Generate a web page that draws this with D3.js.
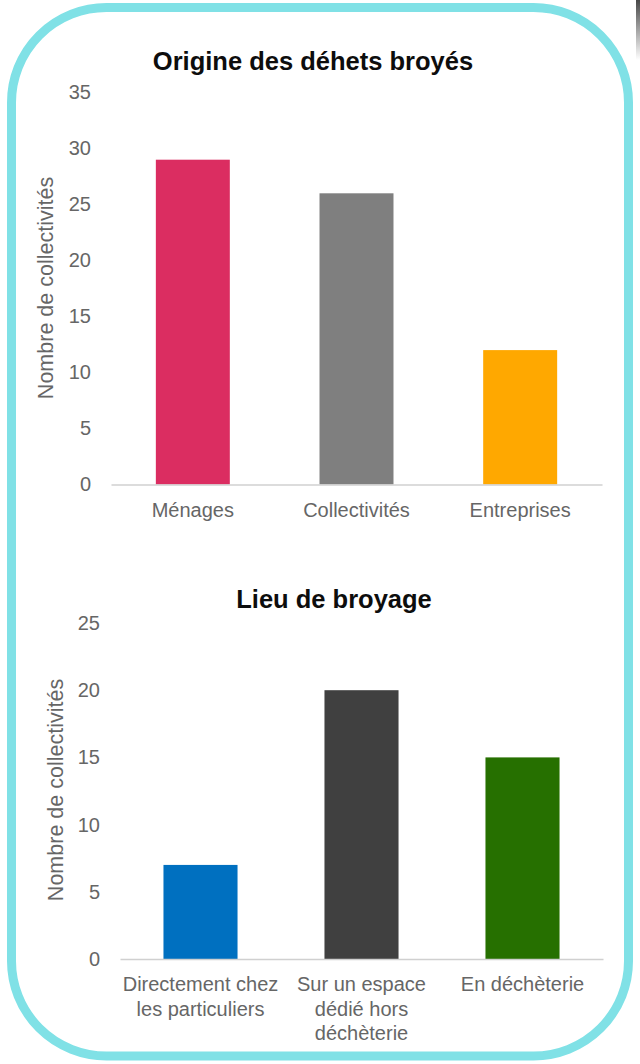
<!DOCTYPE html>
<html>
<head>
<meta charset="utf-8">
<script src="https://cdn.jsdelivr.net/npm/d3@7"></script>
<style>
  html, body { margin: 0; padding: 0; background: #fff; }
  svg { display: block; font-family: "Liberation Sans", Arial, sans-serif; }
</style>
</head>
<body>
<div id="chart"></div>
<script>
// chart 1 : origine des déchets
const origineTitle = 'Origine des déhets broyés';
const origineCategories = ['Ménages', 'Collectivités', 'Entreprises'];
const origineValues = [29, 26, 12];
const origineColors = ['#db2d61', '#7f7f7f', '#ffa800'];
const origineTicks = [0, 5, 10, 15, 20, 25, 30, 35];

// chart 2 : lieu de broyage (labels are already split in lines)
const lieuTitle = 'Lieu de broyage';
const lieuCategories = [
  ['Directement chez', 'les particuliers'],
  ['Sur un espace', 'dédié hors', 'déchèterie'],
  ['En déchèterie']
];
const lieuValues = [7, 20, 15];
const lieuColors = ['#0070c0', '#404040', '#267000'];
const lieuTicks = [0, 5, 10, 15, 20, 25];

const yLabel = 'Nombre de collectivités';

const width = 640;
const height = 1064;

const svg = d3.select('#chart').append('svg')
  .attr('width', width)
  .attr('height', height);

// little dark shadow seen top right of the screenshot
const grad = svg.append('defs').append('linearGradient')
  .attr('id', 'shade').attr('x1', 0).attr('y1', 0).attr('x2', 0).attr('y2', 1);
grad.append('stop').attr('offset', '0%').attr('stop-color', '#333').attr('stop-opacity', 0.9);
grad.append('stop').attr('offset', '100%').attr('stop-color', '#333').attr('stop-opacity', 0);
svg.append('rect')
  .attr('x', 636).attr('y', 0).attr('width', 4).attr('height', 60)
  .attr('fill', 'url(#shade)');

// rounded frame
svg.append('rect')
  .attr('x', 11.5).attr('y', 7.5)
  .attr('width', 617).attr('height', 1048.5)
  .attr('rx', 95).attr('ry', 95)
  .attr('fill', '#fff')
  .attr('stroke', '#80e1e6')
  .attr('stroke-width', 9);

function drawChart(opts) {
  const g = svg.append('g');
  const labels = opts.categories.map(c => Array.isArray(c) ? c : [c]);
  const keys = labels.map(l => l.join(' '));

  const x = d3.scaleBand()
    .domain(keys)
    .range([opts.left, opts.right])
    .paddingInner(opts.padding)
    .paddingOuter(opts.padding / 2);

  const y = d3.scaleLinear()
    .domain([0, d3.max(opts.ticks)])
    .range([opts.bottom, opts.top]);

  g.append('text')
    .attr('x', opts.titleX)
    .attr('y', opts.titleY)
    .attr('text-anchor', 'middle')
    .attr('font-size', 25.5)
    .attr('font-weight', 'bold')
    .attr('fill', '#0d0d0d')
    .text(opts.title);

  const yAxis = g.append('g')
    .attr('transform', `translate(${opts.left},0)`)
    .call(d3.axisLeft(y).tickValues(opts.ticks).tickSize(0).tickPadding(20));
  yAxis.select('.domain').remove();
  yAxis.selectAll('text')
    .attr('font-size', 20)
    .attr('font-family', '"Liberation Sans", Arial, sans-serif')
    .attr('fill', '#666');

  g.append('text')
    .attr('transform', `translate(${opts.yLabelX},${opts.yLabelY}) rotate(-90)`)
    .attr('text-anchor', 'middle')
    .attr('dy', '0.35em')
    .attr('font-size', 21.5)
    .attr('fill', '#666')
    .text(yLabel);

  g.selectAll('.bar')
    .data(opts.values)
    .enter()
    .append('rect')
    .attr('class', 'bar')
    .attr('x', (d, i) => x(keys[i]))
    .attr('y', d => y(d))
    .attr('width', x.bandwidth())
    .attr('height', d => y(0) - y(d))
    .attr('fill', (d, i) => opts.colors[i]);

  const xAxis = g.append('g')
    .attr('transform', `translate(0,${opts.bottom})`)
    .call(d3.axisBottom(x).tickSize(0).tickFormat(''));
  xAxis.select('.domain')
    .attr('stroke', '#d0d0d0')
    .attr('stroke-width', 1.5);

  // category labels, one tspan per line
  xAxis.selectAll('.tick text').remove();
  xAxis.selectAll('.tick')
    .append('text')
    .attr('text-anchor', 'middle')
    .attr('font-size', 20)
    .attr('font-family', '"Liberation Sans", Arial, sans-serif')
    .attr('fill', '#666')
    .attr('y', 32)
    .selectAll('tspan')
    .data((d, i) => labels[i])
    .enter()
    .append('tspan')
    .attr('x', 0)
    .attr('dy', (d, i) => i === 0 ? 0 : 24.5)
    .text(d => d);
}

drawChart({
  title: origineTitle,
  categories: origineCategories,
  values: origineValues,
  colors: origineColors,
  ticks: origineTicks,
  left: 111, right: 602, top: 92.5, bottom: 484.5,
  padding: 0.548,
  titleX: 313, titleY: 70,
  yLabelX: 45, yLabelY: 288
});

drawChart({
  title: lieuTitle,
  categories: lieuCategories,
  values: lieuValues,
  colors: lieuColors,
  ticks: lieuTicks,
  left: 120, right: 603, top: 623, bottom: 959,
  padding: 0.54,
  titleX: 334, titleY: 608,
  yLabelX: 55, yLabelY: 790
});
</script>
</body>
</html>
